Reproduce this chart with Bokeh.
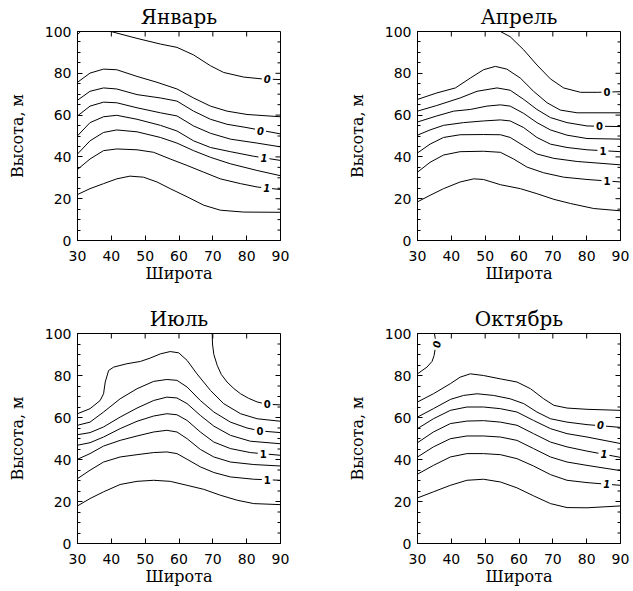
import math
from bokeh.plotting import figure
from bokeh.layouts import gridplot
from bokeh.models import Range1d, SingleIntervalTicker
from bokeh.core.properties import value
from bokeh.embed import file_html
from bokeh.resources import INLINE

# ---------------- data (latitude, height of each isoline) ----------------
titles = ["Январь", "Апрель", "Июль", "Октябрь"]
x_label = "Широта"
y_label = "Высота, м"

x_major = [30, 40, 50, 60, 70, 80, 90]
y_major = [0, 20, 40, 60, 80, 100]
y_minor = [5, 10, 15, 25, 30, 35, 45, 50, 55, 65, 70, 75, 85, 90, 95]

jan_lat = [
    [30, 31.5],
    [39.5, 39.9, 47.6, 54.5, 59.4, 64.3, 69.3, 73.2, 79.1, 84.6, 90],
    [30, 33.7, 37.7, 41.6, 47.6, 53.5, 59.4, 64.3, 69.3, 74.2, 80.1, 90],
    [30, 33.7, 37.7, 41.6, 47.6, 54.5, 59.4, 64.3, 69.3, 74.2, 80.1, 90],
    [30, 33.7, 37.7, 41.6, 47.6, 54.5, 59.4, 64.3, 69.3, 75.2, 83.1, 90],
    [30, 33.7, 37.7, 41.6, 47.6, 54.5, 59.4, 64.3, 69.3, 75.2, 82.1, 90],
    [30, 33.7, 37.7, 41.6, 47.6, 54.5, 59.4, 64.3, 69.3, 75.2, 83.1, 90],
    [30, 33.7, 37.7, 41.6, 47.6, 52.5, 57.4, 62.4, 67.3, 72.2, 78.2, 83.1, 90],
    [30, 33.7, 37.7, 41.6, 45.5, 49.5, 53.5, 57.4, 62.4, 67.3, 72.2, 79.1, 90],
]
jan_h = [
    [98.5, 101],
    [101, 100, 96.7, 94.0, 92.4, 88.8, 83.6, 80.4, 78.2, 77.3, 77.0],
    [75.7, 80.1, 82.0, 81.7, 78.5, 75.7, 72.5, 68.2, 64.3, 61.9, 60.3, 59.2],
    [67.1, 71.4, 73.0, 72.5, 69.8, 68.2, 66.7, 61.9, 58.0, 55.6, 54.0, 51.0],
    [59.6, 64.3, 66.2, 65.9, 63.5, 61.1, 59.6, 54.8, 51.3, 48.5, 46.6, 44.8],
    [50.1, 56.4, 59.2, 59.9, 58.0, 55.1, 52.4, 47.7, 44.5, 42.5, 40.3, 38.3],
    [41.4, 47.7, 51.7, 52.9, 52.0, 49.3, 46.6, 43.0, 39.8, 36.7, 33.5, 31.0],
    [34.0, 39.0, 43.0, 43.8, 43.4, 42.2, 39.0, 35.9, 32.7, 29.5, 27.2, 25.6, 24.4],
    [22.0, 24.8, 27.2, 29.5, 30.8, 30.3, 28.0, 24.8, 20.9, 16.9, 14.5, 13.6, 13.5],
]
jan_lab_lat = [86.1, 84.1, 85.1, 85.9]
jan_lab_h = [77.4, 52.3, 39.5, 25.3]
jan_lab_txt = ["0", "0", "1", "1"]

apr_lat = [
    [54.0, 54.5, 57.4, 61.4, 65.3, 69.3, 73.2, 78.2, 83.1, 90],
    [30, 35.7, 41.2, 45.6, 49.5, 53.0, 56.4, 60.4, 64.3, 68.3, 72.2, 77.2, 90],
    [30, 35.7, 42.6, 47.6, 53.5, 57.4, 61.4, 65.3, 69.3, 74.2, 80.1, 90],
    [30, 35.7, 40.7, 45.6, 50.5, 54.5, 57.4, 61.4, 65.3, 69.3, 74.2, 80.1, 90],
    [30, 33.7, 37.7, 43.6, 49.5, 54.5, 57.4, 61.4, 65.3, 69.3, 74.2, 80.1, 90],
    [30, 33.7, 37.7, 42.6, 49.5, 54.5, 57.4, 61.4, 65.3, 70.3, 77.2, 90],
    [30, 33.7, 37.7, 42.6, 49.5, 54.5, 58.4, 62.4, 67.3, 73.2, 80.1, 90],
    [30, 33.7, 37.7, 42.6, 46.6, 49.5, 54.5, 60.4, 65.3, 70.3, 75.2, 82.1, 90],
]
apr_h = [
    [101, 100, 97.5, 91.2, 84.0, 77.3, 73.0, 70.9, 70.9, 71.2],
    [67.5, 70.6, 73.0, 77.7, 81.7, 83.3, 82.0, 77.7, 71.4, 65.9, 62.4, 61.1, 61.1],
    [61.9, 64.6, 68.2, 71.4, 73.0, 71.9, 67.5, 62.7, 58.8, 56.4, 54.8, 54.5],
    [56.7, 59.6, 61.9, 62.7, 64.3, 64.9, 64.3, 60.8, 56.4, 52.9, 50.4, 48.8, 48.5],
    [50.4, 52.9, 55.1, 56.4, 57.2, 57.7, 57.2, 54.0, 49.3, 46.1, 44.5, 43.4, 42.5],
    [41.9, 46.1, 49.3, 50.6, 50.7, 50.6, 49.3, 45.3, 41.4, 39.3, 37.8, 36.2],
    [32.7, 37.4, 40.9, 42.5, 42.7, 42.2, 39.0, 35.1, 32.4, 30.3, 29.2, 28.0],
    [18.5, 21.6, 24.8, 28.0, 29.5, 29.2, 26.7, 24.8, 22.4, 19.7, 17.7, 15.3, 14.2],
]
apr_lab_lat = [86.0, 83.8, 84.8, 86.0]
apr_lab_h = [71.1, 54.8, 42.8, 28.6]
apr_lab_txt = ["0", "0", "1", "1"]

jul_lat = [
    [69.8, 69.9, 70.3, 71.3, 72.5, 74.2, 76.2, 78.2, 80.5, 83.1, 86.0, 90],
    [30, 33.7, 36.7, 37.7, 38.2, 39.2, 40.7, 44.6, 48.6, 51.5, 54.5, 57.4, 59.9, 62.4, 65.3, 69.3, 73.2, 78.2, 83.1, 90],
    [30, 33.7, 37.7, 42.6, 47.6, 52.5, 56.4, 59.4, 62.4, 66.3, 70.3, 75.2, 80.1, 84.1, 90],
    [30, 33.7, 37.7, 42.6, 47.6, 52.5, 56.4, 59.4, 62.4, 66.3, 70.3, 75.2, 81.1, 90],
    [30, 33.7, 37.7, 42.6, 47.6, 52.5, 56.4, 59.4, 62.4, 66.3, 70.3, 75.2, 81.1, 90],
    [30, 33.7, 37.7, 42.6, 47.6, 52.5, 56.4, 59.4, 62.4, 66.3, 70.3, 75.2, 82.1, 90],
    [30, 33.7, 37.7, 42.6, 47.6, 52.5, 56.4, 59.4, 62.4, 66.3, 70.3, 75.2, 82.1, 90],
    [30, 33.7, 37.7, 42.6, 47.6, 52.5, 57.4, 62.4, 67.3, 72.2, 77.2, 82.1, 90],
]
jul_h = [
    [101, 95.0, 90.0, 84.8, 80.5, 76.9, 73.8, 71.3, 69.2, 67.4, 66.3, 66.0],
    [61.8, 64.2, 68.1, 71.3, 76.9, 82.4, 84.0, 85.6, 86.7, 88.3, 90.3, 91.4, 90.8, 87.2, 80.8, 72.9, 66.6, 61.8, 59.4, 58.2],
    [56.3, 57.8, 62.6, 68.9, 73.7, 77.2, 78.1, 77.7, 74.5, 68.1, 62.6, 57.8, 55.0, 53.6, 52.8],
    [51.8, 52.8, 55.5, 60.2, 64.5, 68.1, 69.7, 69.3, 66.6, 61.0, 55.9, 51.5, 48.7, 47.5],
    [46.8, 48.0, 50.7, 54.7, 58.2, 60.7, 61.8, 61.3, 58.6, 53.1, 48.3, 45.2, 43.3, 42.0],
    [40.1, 42.8, 46.4, 49.1, 51.2, 53.1, 53.9, 53.1, 49.9, 44.8, 41.2, 38.8, 37.6, 36.9],
    [30.9, 34.9, 38.8, 41.2, 42.3, 43.3, 43.6, 42.8, 40.1, 36.5, 33.8, 31.7, 30.6, 30.1],
    [17.9, 21.4, 24.6, 28.1, 29.6, 30.1, 29.6, 27.7, 25.8, 23.0, 20.6, 19.0, 18.5],
]
jul_lab_lat = [86.1, 83.9, 84.9, 86.1]
jul_lab_h = [66.3, 53.4, 42.6, 30.3]
jul_lab_txt = ["0", "0", "1", "1"]

oct_lat = [
    [30, 32.8, 34.3, 34.9, 35.4, 35.2, 34.9],
    [30, 34.7, 39.7, 42.6, 45.6, 49.5, 54.5, 59.4, 63.4, 67.3, 70.3, 74.2, 80.1, 90],
    [30, 34.7, 39.7, 43.6, 47.6, 52.5, 57.4, 61.4, 65.3, 69.3, 74.2, 80.1, 90],
    [30, 34.7, 39.7, 44.6, 49.5, 54.5, 59.4, 64.3, 69.3, 74.2, 80.1, 90],
    [30, 34.7, 39.7, 44.6, 49.5, 54.5, 59.4, 64.3, 69.3, 74.2, 80.1, 90],
    [30, 34.7, 39.7, 44.6, 49.5, 54.5, 59.4, 64.3, 69.3, 74.2, 80.1, 90],
    [30, 34.7, 39.7, 44.6, 49.5, 54.5, 59.4, 64.3, 69.3, 74.2, 80.1, 90],
    [30, 34.7, 39.7, 44.6, 49.5, 54.5, 59.4, 64.3, 69.3, 74.2, 80.1, 90],
]
oct_h = [
    [80.8, 84.0, 86.7, 89.5, 94.5, 98.2, 101],
    [67.4, 71.3, 76.1, 79.2, 80.8, 80.0, 78.4, 76.9, 73.7, 68.9, 65.8, 64.5, 63.9, 63.4],
    [60.2, 64.2, 68.6, 70.5, 71.3, 70.5, 68.9, 66.6, 62.6, 59.4, 57.8, 56.6, 55.3],
    [54.7, 59.4, 63.4, 65.0, 65.0, 64.2, 62.6, 58.6, 54.7, 52.3, 50.7, 47.6],
    [48.0, 53.1, 57.1, 58.3, 58.5, 57.8, 56.3, 52.3, 48.3, 46.0, 44.0, 41.0],
    [41.2, 46.0, 49.9, 51.2, 51.2, 50.7, 49.1, 45.2, 41.2, 38.8, 37.2, 34.7],
    [33.0, 37.2, 41.2, 42.8, 42.8, 42.3, 40.4, 36.9, 32.8, 30.1, 29.0, 27.7],
    [21.7, 24.6, 27.7, 30.1, 30.6, 29.3, 26.5, 22.7, 19.0, 17.1, 17.0, 17.9],
]
oct_lab_lat = [35.6, 84.1, 85.1, 85.9]
oct_lab_h = [94.8, 56.4, 42.6, 28.2]
oct_lab_txt = ["0", "0", "1", "1"]
oct_lab_angle = [1.45, 0, 0, 0]

SANS = "DejaVu Sans"
SERIF = "DejaVu Serif"


def style_axis(ax, ticker, minor=True, standoff=6):
    ax.ticker = ticker
    ax.axis_line_color = "black"
    ax.axis_line_width = 1
    ax.major_tick_line_color = "black"
    ax.major_tick_in = 5
    ax.major_tick_out = 0
    ax.minor_tick_in = 3
    ax.minor_tick_out = 0
    ax.minor_tick_line_color = "black" if minor else None
    ax.major_label_text_font = SANS
    ax.major_label_text_font_size = "14px"
    ax.major_label_text_color = "black"
    ax.major_label_standoff = standoff


def panel(title, lats, hs, lab_lat, lab_h, lab_txt, lab_style, lab_angle,
          width, height, mbl, mbr, mbt, mbb, title_standoff):
    p = figure(width=width, height=height,
               x_range=Range1d(30, 90), y_range=Range1d(0, 100),
               output_backend="svg", toolbar_location=None,
               min_border_left=mbl, min_border_right=mbr,
               min_border_top=mbt, min_border_bottom=mbb,
               title=title)
    p.grid.visible = False
    p.outline_line_color = "black"
    p.background_fill_color = "white"
    p.border_fill_color = "white"
    p.title.text_font = SERIF
    p.title.text_font_size = "20px"
    p.title.text_font_style = "normal"
    p.title.text_color = "black"
    p.title.align = "center"
    p.title.standoff = title_standoff

    style_axis(p.xaxis[0], SingleIntervalTicker(interval=10, num_minor_ticks=2),
               minor=False, standoff=10)
    style_axis(p.yaxis[0], SingleIntervalTicker(interval=20, num_minor_ticks=4),
               standoff=6)
    p.xaxis[0].axis_label = x_label
    p.yaxis[0].axis_label = y_label
    for ax, st in ((p.xaxis[0], 0), (p.yaxis[0], 15)):
        ax.axis_label_text_font = SERIF
        ax.axis_label_text_font_size = "16px"
        ax.axis_label_text_font_style = "normal"
        ax.axis_label_text_color = "black"
        ax.axis_label_standoff = st

    # inward tick marks on the right and top frame edges
    p.ray(x=[90] * len(y_major), y=y_major, length=5, length_units="screen",
          angle=math.pi, line_color="black", line_width=1)
    p.ray(x=[90] * len(y_minor), y=y_minor, length=3, length_units="screen",
          angle=math.pi, line_color="black", line_width=1)
    p.ray(x=x_major, y=[100] * len(x_major), length=5, length_units="screen",
          angle=-math.pi / 2, line_color="black", line_width=1)

    p.multi_line(xs=lats, ys=hs, line_color="black", line_width=1)
    p.text(x=lab_lat, y=lab_h, text=lab_txt, angle=lab_angle,
           text_font=value(SANS), text_font_size="10px",
           text_font_style=lab_style, text_color="black",
           text_align="center", text_baseline="middle",
           background_fill_color="white", padding=2)
    return p


p1 = panel(titles[0], jan_lat, jan_h, jan_lab_lat, jan_lab_h, jan_lab_txt,
           "bold italic", 0, 340, 290, 77, 60, 29, 50, 5)
p2 = panel(titles[1], apr_lat, apr_h, apr_lab_lat, apr_lab_h, apr_lab_txt,
           "bold", 0, 293, 290, 77, 13, 29, 50, 5)
p3 = panel(titles[2], jul_lat, jul_h, jul_lab_lat, jul_lab_h, jul_lab_txt,
           "bold", 0, 340, 301, 77, 60, 43, 48, 6)
p4 = panel(titles[3], oct_lat, oct_h, oct_lab_lat, oct_lab_h, oct_lab_txt,
           "bold italic", oct_lab_angle, 293, 301, 77, 13, 43, 48, 6)

grid = gridplot([[p1, p2], [p3, p4]], toolbar_location=None)

open("out.html", "w").write(file_html(grid, INLINE))
